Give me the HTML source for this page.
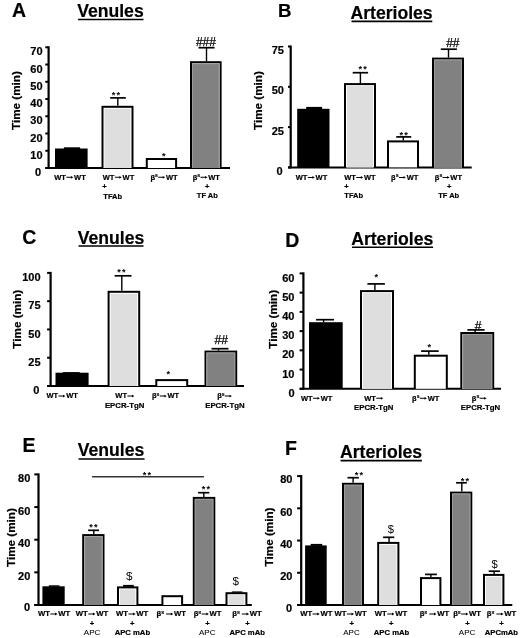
<!DOCTYPE html>
<html><head><meta charset="utf-8"><style>
html,body{margin:0;padding:0;background:#fff;}
svg{display:block;font-family:"Liberation Sans", sans-serif;}
text[font-weight="bold"]{stroke:#000;stroke-width:0.2px;} text.st{stroke:none;} svg{filter:blur(0.3px);}
</style></head><body>
<svg width="520" height="638" viewBox="0 0 520 638">
<rect width="520" height="638" fill="#fff"/>
<text x="12.00" y="17.20" font-size="19.5" font-weight="bold" text-anchor="start" fill="#000" >A</text>
<text x="77.20" y="17.30" font-size="17.6" font-weight="bold" text-anchor="start" fill="#000" >Venules</text>
<line x1="78.00" y1="19.50" x2="143.50" y2="19.50" stroke="#000" stroke-width="1.6"/>
<line x1="48.60" y1="46.30" x2="48.60" y2="169.00" stroke="#000" stroke-width="2.2"/>
<line x1="45.30" y1="47.30" x2="48.60" y2="47.30" stroke="#000" stroke-width="2"/>
<text x="42.60" y="55.40" font-size="11" font-weight="bold" text-anchor="end" fill="#000" >70</text>
<line x1="45.30" y1="64.54" x2="48.60" y2="64.54" stroke="#000" stroke-width="2"/>
<text x="42.60" y="72.64" font-size="11" font-weight="bold" text-anchor="end" fill="#000" >60</text>
<line x1="45.30" y1="81.79" x2="48.60" y2="81.79" stroke="#000" stroke-width="2"/>
<text x="42.60" y="89.89" font-size="11" font-weight="bold" text-anchor="end" fill="#000" >50</text>
<line x1="45.30" y1="99.03" x2="48.60" y2="99.03" stroke="#000" stroke-width="2"/>
<text x="42.60" y="107.13" font-size="11" font-weight="bold" text-anchor="end" fill="#000" >40</text>
<line x1="45.30" y1="116.27" x2="48.60" y2="116.27" stroke="#000" stroke-width="2"/>
<text x="42.60" y="124.37" font-size="11" font-weight="bold" text-anchor="end" fill="#000" >30</text>
<line x1="45.30" y1="133.51" x2="48.60" y2="133.51" stroke="#000" stroke-width="2"/>
<text x="42.60" y="141.61" font-size="11" font-weight="bold" text-anchor="end" fill="#000" >20</text>
<line x1="45.30" y1="150.76" x2="48.60" y2="150.76" stroke="#000" stroke-width="2"/>
<text x="42.60" y="158.86" font-size="11" font-weight="bold" text-anchor="end" fill="#000" >10</text>
<line x1="45.30" y1="168.00" x2="48.60" y2="168.00" stroke="#000" stroke-width="2"/>
<text x="41.20" y="175.90" font-size="11" font-weight="bold" text-anchor="end" fill="#000" >0</text>
<line x1="45.30" y1="168.00" x2="230.00" y2="168.00" stroke="#000" stroke-width="2.0"/>
<text transform="translate(20.40,100.60) rotate(-90)" font-size="11.7" font-weight="bold" text-anchor="middle" x="0" y="0">Time (min)</text>
<rect x="55.00" y="148.50" width="32.60" height="19.50" fill="#000"/>
<rect x="63.90" y="147.30" width="16.20" height="1.70" fill="#000"/>
<rect x="101.50" y="105.80" width="32.00" height="62.20" fill="#000"/>
<rect x="103.50" y="107.80" width="28.00" height="60.20" fill="#fff"/>
<rect x="104.50" y="108.80" width="26.00" height="59.20" fill="#dedede"/>
<line x1="117.80" y1="105.80" x2="117.80" y2="97.90" stroke="#000" stroke-width="1.4"/>
<line x1="110.20" y1="97.90" x2="125.80" y2="97.90" stroke="#000" stroke-width="1.7"/>
<text x="113.55" y="98.00" font-size="9.2" font-weight="bold" text-anchor="middle" fill="#000" class="st">*</text>
<text x="118.35" y="98.00" font-size="9.2" font-weight="bold" text-anchor="middle" fill="#000" class="st">*</text>
<rect x="145.80" y="158.00" width="31.30" height="10.00" fill="#000"/>
<rect x="147.80" y="160.00" width="27.30" height="8.00" fill="#fff"/>
<text x="163.70" y="159.00" font-size="9.2" font-weight="bold" text-anchor="middle" fill="#000" class="st">*</text>
<rect x="190.00" y="61.20" width="31.60" height="106.80" fill="#000"/>
<rect x="192.00" y="63.20" width="27.60" height="104.80" fill="#fff"/>
<rect x="192.00" y="63.20" width="27.60" height="104.80" fill="#9a9a9a"/>
<rect x="193.00" y="64.20" width="25.60" height="103.80" fill="#818181"/>
<line x1="206.50" y1="61.20" x2="206.50" y2="47.70" stroke="#000" stroke-width="1.4"/>
<line x1="198.50" y1="47.70" x2="214.60" y2="47.70" stroke="#000" stroke-width="1.7"/>
<text x="205.95" y="46.20" font-size="12" font-weight="normal" text-anchor="middle" fill="#000" stroke="#000" stroke-width="0.25">###</text>
<text x="54.29" y="179.50" font-size="7.5" font-weight="bold" text-anchor="start" fill="#000" >WT</text>
<path d="M66.33 176.82H70.93V175.88L73.30 177.32L70.93 178.77V177.82H66.33Z" fill="#000"/>
<text x="74.05" y="179.50" font-size="7.5" font-weight="bold" text-anchor="start" fill="#000" >WT</text>
<text x="102.79" y="179.50" font-size="7.5" font-weight="bold" text-anchor="start" fill="#000" >WT</text>
<path d="M114.83 176.82H119.43V175.88L121.80 177.32L119.43 178.77V177.82H114.83Z" fill="#000"/>
<text x="122.55" y="179.50" font-size="7.5" font-weight="bold" text-anchor="start" fill="#000" >WT</text>
<text x="104.50" y="189.00" font-size="7.5" font-weight="bold" text-anchor="middle" fill="#000" >+</text>
<text x="103.30" y="198.50" font-size="7.5" font-weight="bold" text-anchor="start" fill="#000" >TFAb</text>
<text x="150.41" y="179.50" font-size="7.5" font-weight="bold" text-anchor="start" fill="#000" >β</text>
<text x="154.99" y="177.03" font-size="5.1000000000000005" font-weight="bold" text-anchor="start" fill="#000" >s</text>
<path d="M158.20 176.82H162.81V175.88L165.18 177.32L162.81 178.77V177.82H158.20Z" fill="#000"/>
<text x="165.93" y="179.50" font-size="7.5" font-weight="bold" text-anchor="start" fill="#000" >WT</text>
<text x="192.71" y="179.50" font-size="7.5" font-weight="bold" text-anchor="start" fill="#000" >β</text>
<text x="197.29" y="177.03" font-size="5.1000000000000005" font-weight="bold" text-anchor="start" fill="#000" >s</text>
<path d="M200.50 176.82H205.11V175.88L207.48 177.32L205.11 178.77V177.82H200.50Z" fill="#000"/>
<text x="208.23" y="179.50" font-size="7.5" font-weight="bold" text-anchor="start" fill="#000" >WT</text>
<text x="207.30" y="189.00" font-size="7.5" font-weight="bold" text-anchor="middle" fill="#000" >+</text>
<text x="207.30" y="198.00" font-size="7.5" font-weight="bold" text-anchor="middle" fill="#000" >TF Ab</text>
<text x="278.00" y="17.00" font-size="18.6" font-weight="bold" text-anchor="start" fill="#000" >B</text>
<text x="350.50" y="19.00" font-size="17.6" font-weight="bold" text-anchor="start" fill="#000" >Arterioles</text>
<line x1="351.50" y1="21.40" x2="432.30" y2="21.40" stroke="#000" stroke-width="1.6"/>
<line x1="290.70" y1="45.50" x2="290.70" y2="168.40" stroke="#000" stroke-width="2.2"/>
<line x1="288.00" y1="46.50" x2="290.70" y2="46.50" stroke="#000" stroke-width="2"/>
<text x="283.90" y="54.00" font-size="11" font-weight="bold" text-anchor="end" fill="#000" >75</text>
<line x1="288.00" y1="86.80" x2="290.70" y2="86.80" stroke="#000" stroke-width="2"/>
<text x="283.90" y="94.30" font-size="11" font-weight="bold" text-anchor="end" fill="#000" >50</text>
<line x1="288.00" y1="127.10" x2="290.70" y2="127.10" stroke="#000" stroke-width="2"/>
<text x="283.90" y="134.60" font-size="11" font-weight="bold" text-anchor="end" fill="#000" >25</text>
<line x1="288.00" y1="167.40" x2="290.70" y2="167.40" stroke="#000" stroke-width="2"/>
<text x="282.60" y="175.20" font-size="11" font-weight="bold" text-anchor="end" fill="#000" >0</text>
<line x1="288.00" y1="167.40" x2="471.70" y2="167.40" stroke="#000" stroke-width="2.0"/>
<text transform="translate(262.30,100.60) rotate(-90)" font-size="11.7" font-weight="bold" text-anchor="middle" x="0" y="0">Time (min)</text>
<rect x="297.20" y="108.80" width="32.30" height="58.60" fill="#000"/>
<rect x="306.20" y="106.90" width="15.90" height="2.40" fill="#000"/>
<rect x="344.00" y="83.10" width="32.00" height="84.30" fill="#000"/>
<rect x="346.00" y="85.10" width="28.00" height="82.30" fill="#fff"/>
<rect x="347.00" y="86.10" width="26.00" height="81.30" fill="#dedede"/>
<line x1="360.40" y1="83.30" x2="360.40" y2="72.70" stroke="#000" stroke-width="1.4"/>
<line x1="352.70" y1="72.70" x2="368.10" y2="72.70" stroke="#000" stroke-width="1.7"/>
<text x="360.30" y="72.00" font-size="9.2" font-weight="bold" text-anchor="middle" fill="#000" class="st">*</text>
<text x="365.10" y="72.00" font-size="9.2" font-weight="bold" text-anchor="middle" fill="#000" class="st">*</text>
<rect x="387.00" y="140.40" width="32.00" height="27.00" fill="#000"/>
<rect x="389.00" y="142.40" width="28.00" height="25.00" fill="#fff"/>
<line x1="403.30" y1="140.40" x2="403.30" y2="136.90" stroke="#000" stroke-width="1.4"/>
<line x1="396.20" y1="136.90" x2="411.20" y2="136.90" stroke="#000" stroke-width="1.7"/>
<text x="401.35" y="138.00" font-size="9.2" font-weight="bold" text-anchor="middle" fill="#000" class="st">*</text>
<text x="406.15" y="138.00" font-size="9.2" font-weight="bold" text-anchor="middle" fill="#000" class="st">*</text>
<rect x="432.00" y="57.60" width="32.00" height="109.80" fill="#000"/>
<rect x="434.00" y="59.60" width="28.00" height="107.80" fill="#fff"/>
<rect x="434.00" y="59.60" width="28.00" height="107.80" fill="#9a9a9a"/>
<rect x="435.00" y="60.60" width="26.00" height="106.80" fill="#818181"/>
<line x1="448.50" y1="57.60" x2="448.50" y2="49.20" stroke="#000" stroke-width="1.4"/>
<line x1="440.80" y1="49.20" x2="456.90" y2="49.20" stroke="#000" stroke-width="1.7"/>
<text x="452.85" y="47.10" font-size="12" font-weight="normal" text-anchor="middle" fill="#000" stroke="#000" stroke-width="0.25">##</text>
<text x="295.79" y="179.60" font-size="7.5" font-weight="bold" text-anchor="start" fill="#000" >WT</text>
<path d="M307.82 176.92H312.43V175.97L314.80 177.42L312.43 178.87V177.92H307.82Z" fill="#000"/>
<text x="315.55" y="179.60" font-size="7.5" font-weight="bold" text-anchor="start" fill="#000" >WT</text>
<text x="344.19" y="179.60" font-size="7.5" font-weight="bold" text-anchor="start" fill="#000" >WT</text>
<path d="M356.22 176.92H360.83V175.97L363.20 177.42L360.83 178.87V177.92H356.22Z" fill="#000"/>
<text x="363.95" y="179.60" font-size="7.5" font-weight="bold" text-anchor="start" fill="#000" >WT</text>
<text x="344.30" y="189.00" font-size="7.5" font-weight="bold" text-anchor="start" fill="#000" >+</text>
<text x="344.30" y="198.30" font-size="7.5" font-weight="bold" text-anchor="start" fill="#000" >TFAb</text>
<text x="391.11" y="179.60" font-size="7.5" font-weight="bold" text-anchor="start" fill="#000" >β</text>
<text x="395.69" y="177.12" font-size="5.1000000000000005" font-weight="bold" text-anchor="start" fill="#000" >s</text>
<path d="M398.90 176.92H403.51V175.97L405.88 177.42L403.51 178.87V177.92H398.90Z" fill="#000"/>
<text x="406.63" y="179.60" font-size="7.5" font-weight="bold" text-anchor="start" fill="#000" >WT</text>
<text x="434.81" y="179.60" font-size="7.5" font-weight="bold" text-anchor="start" fill="#000" >β</text>
<text x="439.39" y="177.12" font-size="5.1000000000000005" font-weight="bold" text-anchor="start" fill="#000" >s</text>
<path d="M442.60 176.92H447.21V175.97L449.58 177.42L447.21 178.87V177.92H442.60Z" fill="#000"/>
<text x="450.33" y="179.60" font-size="7.5" font-weight="bold" text-anchor="start" fill="#000" >WT</text>
<text x="449.10" y="189.00" font-size="7.5" font-weight="bold" text-anchor="middle" fill="#000" >+</text>
<text x="448.70" y="198.00" font-size="7.5" font-weight="bold" text-anchor="middle" fill="#000" >TF Ab</text>
<text x="22.30" y="243.70" font-size="19.5" font-weight="bold" text-anchor="start" fill="#000" >C</text>
<text x="77.80" y="243.50" font-size="17.6" font-weight="bold" text-anchor="start" fill="#000" >Venules</text>
<line x1="78.50" y1="246.00" x2="143.50" y2="246.00" stroke="#000" stroke-width="1.6"/>
<line x1="50.60" y1="271.90" x2="50.60" y2="387.00" stroke="#000" stroke-width="2.2"/>
<line x1="47.10" y1="272.90" x2="50.60" y2="272.90" stroke="#000" stroke-width="2"/>
<text x="40.60" y="281.00" font-size="11" font-weight="bold" text-anchor="end" fill="#000" >100</text>
<line x1="47.10" y1="301.17" x2="50.60" y2="301.17" stroke="#000" stroke-width="2"/>
<text x="40.60" y="309.27" font-size="11" font-weight="bold" text-anchor="end" fill="#000" >75</text>
<line x1="47.10" y1="329.45" x2="50.60" y2="329.45" stroke="#000" stroke-width="2"/>
<text x="40.60" y="337.55" font-size="11" font-weight="bold" text-anchor="end" fill="#000" >50</text>
<line x1="47.10" y1="357.73" x2="50.60" y2="357.73" stroke="#000" stroke-width="2"/>
<text x="40.60" y="365.83" font-size="11" font-weight="bold" text-anchor="end" fill="#000" >25</text>
<line x1="47.10" y1="386.00" x2="50.60" y2="386.00" stroke="#000" stroke-width="2"/>
<text x="39.30" y="394.10" font-size="11" font-weight="bold" text-anchor="end" fill="#000" >0</text>
<line x1="47.10" y1="386.00" x2="244.00" y2="386.00" stroke="#000" stroke-width="2.0"/>
<text transform="translate(21.00,319.20) rotate(-90)" font-size="11.7" font-weight="bold" text-anchor="middle" x="0" y="0">Time (min)</text>
<rect x="55.50" y="372.70" width="33.10" height="13.30" fill="#000"/>
<rect x="62.80" y="372.10" width="16.90" height="1.10" fill="#000"/>
<rect x="107.60" y="290.80" width="32.60" height="95.20" fill="#000"/>
<rect x="109.60" y="292.80" width="28.60" height="93.20" fill="#fff"/>
<rect x="110.60" y="293.80" width="26.60" height="92.20" fill="#dedede"/>
<line x1="121.80" y1="290.80" x2="121.80" y2="275.80" stroke="#000" stroke-width="1.4"/>
<line x1="114.60" y1="275.80" x2="131.50" y2="275.80" stroke="#000" stroke-width="1.7"/>
<text x="118.95" y="275.00" font-size="9.2" font-weight="bold" text-anchor="middle" fill="#000" class="st">*</text>
<text x="123.75" y="275.00" font-size="9.2" font-weight="bold" text-anchor="middle" fill="#000" class="st">*</text>
<rect x="155.30" y="379.10" width="32.90" height="6.90" fill="#000"/>
<rect x="157.30" y="381.10" width="28.90" height="4.90" fill="#fff"/>
<text x="168.20" y="377.00" font-size="9.2" font-weight="bold" text-anchor="middle" fill="#000" class="st">*</text>
<rect x="204.50" y="350.60" width="32.70" height="35.40" fill="#000"/>
<rect x="206.50" y="352.60" width="28.70" height="33.40" fill="#fff"/>
<rect x="206.50" y="352.60" width="28.70" height="33.40" fill="#9a9a9a"/>
<rect x="207.50" y="353.60" width="26.70" height="32.40" fill="#818181"/>
<line x1="218.50" y1="350.60" x2="218.50" y2="348.70" stroke="#000" stroke-width="1.4"/>
<line x1="211.50" y1="348.70" x2="228.50" y2="348.70" stroke="#000" stroke-width="1.7"/>
<text x="221.15" y="344.40" font-size="12" font-weight="normal" text-anchor="middle" fill="#000" stroke="#000" stroke-width="0.25">##</text>
<text x="46.39" y="398.30" font-size="7.5" font-weight="bold" text-anchor="start" fill="#000" >WT</text>
<path d="M58.42 395.62H63.03V394.68L65.40 396.12L63.03 397.57V396.62H58.42Z" fill="#000"/>
<text x="66.15" y="398.30" font-size="7.5" font-weight="bold" text-anchor="start" fill="#000" >WT</text>
<text x="115.32" y="398.30" font-size="7.5" font-weight="bold" text-anchor="start" fill="#000" >WT</text>
<path d="M127.36 395.62H131.96V394.68L134.33 396.12L131.96 397.57V396.62H127.36Z" fill="#000"/>
<text x="124.60" y="408.00" font-size="7.8" font-weight="bold" text-anchor="middle" fill="#000" >EPCR-TgN</text>
<text x="152.01" y="398.30" font-size="7.5" font-weight="bold" text-anchor="start" fill="#000" >β</text>
<text x="156.59" y="395.82" font-size="5.1000000000000005" font-weight="bold" text-anchor="start" fill="#000" >s</text>
<path d="M159.80 395.62H164.41V394.68L166.78 396.12L164.41 397.57V396.62H159.80Z" fill="#000"/>
<text x="167.53" y="398.30" font-size="7.5" font-weight="bold" text-anchor="start" fill="#000" >WT</text>
<text x="217.14" y="398.30" font-size="7.5" font-weight="bold" text-anchor="start" fill="#000" >β</text>
<text x="221.72" y="395.82" font-size="5.1000000000000005" font-weight="bold" text-anchor="start" fill="#000" >s</text>
<path d="M224.93 395.62H229.54V394.68L231.91 396.12L229.54 397.57V396.62H224.93Z" fill="#000"/>
<text x="224.90" y="408.00" font-size="7.8" font-weight="bold" text-anchor="middle" fill="#000" >EPCR-TgN</text>
<text x="285.30" y="246.80" font-size="19.5" font-weight="bold" text-anchor="start" fill="#000" >D</text>
<text x="351.20" y="245.10" font-size="17.6" font-weight="bold" text-anchor="start" fill="#000" >Arterioles</text>
<line x1="352.00" y1="247.30" x2="433.10" y2="247.30" stroke="#000" stroke-width="1.6"/>
<line x1="303.40" y1="272.40" x2="303.40" y2="389.80" stroke="#000" stroke-width="2.2"/>
<line x1="299.60" y1="273.40" x2="303.40" y2="273.40" stroke="#000" stroke-width="2"/>
<text x="294.50" y="281.50" font-size="11" font-weight="bold" text-anchor="end" fill="#000" >60</text>
<line x1="299.60" y1="292.63" x2="303.40" y2="292.63" stroke="#000" stroke-width="2"/>
<text x="294.50" y="300.73" font-size="11" font-weight="bold" text-anchor="end" fill="#000" >50</text>
<line x1="299.60" y1="311.87" x2="303.40" y2="311.87" stroke="#000" stroke-width="2"/>
<text x="294.50" y="319.97" font-size="11" font-weight="bold" text-anchor="end" fill="#000" >40</text>
<line x1="299.60" y1="331.10" x2="303.40" y2="331.10" stroke="#000" stroke-width="2"/>
<text x="294.50" y="339.20" font-size="11" font-weight="bold" text-anchor="end" fill="#000" >30</text>
<line x1="299.60" y1="350.33" x2="303.40" y2="350.33" stroke="#000" stroke-width="2"/>
<text x="294.50" y="358.43" font-size="11" font-weight="bold" text-anchor="end" fill="#000" >20</text>
<line x1="299.60" y1="369.57" x2="303.40" y2="369.57" stroke="#000" stroke-width="2"/>
<text x="294.50" y="377.67" font-size="11" font-weight="bold" text-anchor="end" fill="#000" >10</text>
<line x1="299.60" y1="388.80" x2="303.40" y2="388.80" stroke="#000" stroke-width="2"/>
<text x="294.50" y="396.90" font-size="11" font-weight="bold" text-anchor="end" fill="#000" >0</text>
<line x1="299.60" y1="388.80" x2="501.00" y2="388.80" stroke="#000" stroke-width="2.0"/>
<text transform="translate(276.60,319.30) rotate(-90)" font-size="11.7" font-weight="bold" text-anchor="middle" x="0" y="0">Time (min)</text>
<rect x="309.00" y="322.20" width="33.70" height="66.60" fill="#000"/>
<line x1="323.60" y1="322.20" x2="323.60" y2="319.70" stroke="#000" stroke-width="1.4"/>
<line x1="316.10" y1="319.70" x2="334.00" y2="319.70" stroke="#000" stroke-width="1.7"/>
<rect x="360.00" y="290.10" width="34.00" height="98.70" fill="#000"/>
<rect x="362.00" y="292.10" width="30.00" height="96.70" fill="#fff"/>
<rect x="363.00" y="293.10" width="28.00" height="95.70" fill="#dedede"/>
<line x1="374.90" y1="290.10" x2="374.90" y2="283.90" stroke="#000" stroke-width="1.4"/>
<line x1="367.40" y1="283.90" x2="384.90" y2="283.90" stroke="#000" stroke-width="1.7"/>
<text x="376.40" y="280.00" font-size="9.2" font-weight="bold" text-anchor="middle" fill="#000" class="st">*</text>
<rect x="413.80" y="354.70" width="34.00" height="34.10" fill="#000"/>
<rect x="415.80" y="356.70" width="30.00" height="32.10" fill="#fff"/>
<line x1="428.80" y1="354.70" x2="428.80" y2="351.10" stroke="#000" stroke-width="1.4"/>
<line x1="421.10" y1="351.10" x2="438.70" y2="351.10" stroke="#000" stroke-width="1.7"/>
<text x="429.40" y="350.00" font-size="9.2" font-weight="bold" text-anchor="middle" fill="#000" class="st">*</text>
<rect x="460.30" y="332.00" width="33.90" height="56.80" fill="#000"/>
<rect x="462.30" y="334.00" width="29.90" height="54.80" fill="#fff"/>
<rect x="462.30" y="334.00" width="29.90" height="54.80" fill="#9a9a9a"/>
<rect x="463.30" y="335.00" width="27.90" height="53.80" fill="#818181"/>
<line x1="475.10" y1="332.00" x2="475.10" y2="329.90" stroke="#000" stroke-width="1.4"/>
<line x1="467.40" y1="329.90" x2="484.60" y2="329.90" stroke="#000" stroke-width="1.7"/>
<text x="478.10" y="330.10" font-size="12" font-weight="normal" text-anchor="middle" fill="#000" stroke="#000" stroke-width="0.25">#</text>
<text x="300.89" y="400.50" font-size="7.5" font-weight="bold" text-anchor="start" fill="#000" >WT</text>
<path d="M312.93 397.82H317.53V396.88L319.90 398.32L317.53 399.77V398.82H312.93Z" fill="#000"/>
<text x="320.65" y="400.50" font-size="7.5" font-weight="bold" text-anchor="start" fill="#000" >WT</text>
<text x="364.22" y="400.50" font-size="7.5" font-weight="bold" text-anchor="start" fill="#000" >WT</text>
<path d="M376.26 397.82H380.86V396.88L383.23 398.32L380.86 399.77V398.82H376.26Z" fill="#000"/>
<text x="373.70" y="410.30" font-size="7.8" font-weight="bold" text-anchor="middle" fill="#000" >EPCR-TgN</text>
<text x="412.11" y="400.50" font-size="7.5" font-weight="bold" text-anchor="start" fill="#000" >β</text>
<text x="416.69" y="398.02" font-size="5.1000000000000005" font-weight="bold" text-anchor="start" fill="#000" >s</text>
<path d="M419.90 397.82H424.51V396.88L426.88 398.32L424.51 399.77V398.82H419.90Z" fill="#000"/>
<text x="427.63" y="400.50" font-size="7.5" font-weight="bold" text-anchor="start" fill="#000" >WT</text>
<text x="471.84" y="400.50" font-size="7.5" font-weight="bold" text-anchor="start" fill="#000" >β</text>
<text x="476.42" y="398.02" font-size="5.1000000000000005" font-weight="bold" text-anchor="start" fill="#000" >s</text>
<path d="M479.63 397.82H484.24V396.88L486.61 398.32L484.24 399.77V398.82H479.63Z" fill="#000"/>
<text x="480.50" y="410.30" font-size="7.8" font-weight="bold" text-anchor="middle" fill="#000" >EPCR-TgN</text>
<text x="22.40" y="452.20" font-size="19.5" font-weight="bold" text-anchor="start" fill="#000" >E</text>
<text x="77.80" y="456.20" font-size="17.6" font-weight="bold" text-anchor="start" fill="#000" >Venules</text>
<line x1="78.50" y1="459.00" x2="144.60" y2="459.00" stroke="#000" stroke-width="1.5"/>
<line x1="38.50" y1="473.40" x2="38.50" y2="606.00" stroke="#000" stroke-width="2.2"/>
<line x1="34.30" y1="474.40" x2="38.50" y2="474.40" stroke="#000" stroke-width="2"/>
<text x="30.30" y="482.00" font-size="11" font-weight="bold" text-anchor="end" fill="#000" >80</text>
<line x1="34.30" y1="507.05" x2="38.50" y2="507.05" stroke="#000" stroke-width="2"/>
<text x="30.30" y="514.65" font-size="11" font-weight="bold" text-anchor="end" fill="#000" >60</text>
<line x1="34.30" y1="539.70" x2="38.50" y2="539.70" stroke="#000" stroke-width="2"/>
<text x="30.30" y="547.30" font-size="11" font-weight="bold" text-anchor="end" fill="#000" >40</text>
<line x1="34.30" y1="572.35" x2="38.50" y2="572.35" stroke="#000" stroke-width="2"/>
<text x="30.30" y="579.95" font-size="11" font-weight="bold" text-anchor="end" fill="#000" >20</text>
<line x1="34.30" y1="605.00" x2="38.50" y2="605.00" stroke="#000" stroke-width="2"/>
<text x="30.00" y="611.40" font-size="11" font-weight="bold" text-anchor="end" fill="#000" >0</text>
<line x1="34.30" y1="605.00" x2="251.80" y2="605.00" stroke="#000" stroke-width="2.0"/>
<text transform="translate(15.00,537.60) rotate(-90)" font-size="11.7" font-weight="bold" text-anchor="middle" x="0" y="0">Time (min)</text>
<rect x="42.40" y="586.30" width="22.30" height="18.70" fill="#000"/>
<rect x="48.80" y="585.30" width="10.70" height="1.50" fill="#000"/>
<rect x="82.20" y="534.10" width="22.30" height="70.90" fill="#000"/>
<rect x="84.20" y="536.10" width="18.30" height="68.90" fill="#fff"/>
<rect x="84.20" y="536.10" width="18.30" height="68.90" fill="#9a9a9a"/>
<rect x="85.20" y="537.10" width="16.30" height="67.90" fill="#818181"/>
<line x1="93.80" y1="534.10" x2="93.80" y2="530.30" stroke="#000" stroke-width="1.4"/>
<line x1="88.10" y1="530.30" x2="99.00" y2="530.30" stroke="#000" stroke-width="1.7"/>
<text x="91.10" y="530.00" font-size="9.2" font-weight="bold" text-anchor="middle" fill="#000" class="st">*</text>
<text x="95.90" y="530.00" font-size="9.2" font-weight="bold" text-anchor="middle" fill="#000" class="st">*</text>
<rect x="117.00" y="586.40" width="21.40" height="18.60" fill="#000"/>
<rect x="119.00" y="588.40" width="17.40" height="16.60" fill="#fff"/>
<rect x="120.00" y="589.40" width="15.40" height="15.60" fill="#dedede"/>
<rect x="123.10" y="584.90" width="10.70" height="2.00" fill="#000"/>
<text x="129.30" y="579.90" font-size="11.6" font-weight="normal" text-anchor="middle" fill="#000" >$</text>
<rect x="161.40" y="595.20" width="21.70" height="9.80" fill="#000"/>
<rect x="163.40" y="597.20" width="17.70" height="7.80" fill="#fff"/>
<rect x="192.80" y="496.90" width="22.50" height="108.10" fill="#000"/>
<rect x="194.80" y="498.90" width="18.50" height="106.10" fill="#fff"/>
<rect x="194.80" y="498.90" width="18.50" height="106.10" fill="#9a9a9a"/>
<rect x="195.80" y="499.90" width="16.50" height="105.10" fill="#818181"/>
<line x1="203.80" y1="496.90" x2="203.80" y2="492.70" stroke="#000" stroke-width="1.4"/>
<line x1="198.10" y1="492.70" x2="209.30" y2="492.70" stroke="#000" stroke-width="1.7"/>
<text x="203.45" y="492.00" font-size="9.2" font-weight="bold" text-anchor="middle" fill="#000" class="st">*</text>
<text x="208.25" y="492.00" font-size="9.2" font-weight="bold" text-anchor="middle" fill="#000" class="st">*</text>
<rect x="225.50" y="592.20" width="21.90" height="12.80" fill="#000"/>
<rect x="227.50" y="594.20" width="17.90" height="10.80" fill="#fff"/>
<rect x="228.50" y="595.20" width="15.90" height="9.80" fill="#dedede"/>
<rect x="231.80" y="591.40" width="10.70" height="1.30" fill="#000"/>
<text x="235.70" y="585.40" font-size="11.6" font-weight="normal" text-anchor="middle" fill="#000" >$</text>
<line x1="92.10" y1="476.70" x2="203.90" y2="476.70" stroke="#333" stroke-width="1.5"/>
<text x="144.60" y="478.00" font-size="9.2" font-weight="bold" text-anchor="middle" fill="#000" class="st">*</text>
<text x="149.40" y="478.00" font-size="9.2" font-weight="bold" text-anchor="middle" fill="#000" class="st">*</text>
<text x="37.97" y="616.30" font-size="7.7" font-weight="bold" text-anchor="start" fill="#000" >WT</text>
<path d="M50.33 613.57H55.09V612.62L57.49 614.07L55.09 615.52V614.57H50.33Z" fill="#000"/>
<text x="58.26" y="616.30" font-size="7.7" font-weight="bold" text-anchor="start" fill="#000" >WT</text>
<text x="75.87" y="616.30" font-size="7.7" font-weight="bold" text-anchor="start" fill="#000" >WT</text>
<path d="M88.23 613.57H92.99V612.62L95.39 614.07L92.99 615.52V614.57H88.23Z" fill="#000"/>
<text x="96.16" y="616.30" font-size="7.7" font-weight="bold" text-anchor="start" fill="#000" >WT</text>
<text x="92.00" y="626.00" font-size="7.7" font-weight="bold" text-anchor="middle" fill="#000" >+</text>
<text x="92.10" y="635.10" font-size="8" font-weight="normal" text-anchor="middle" fill="#000" stroke="#000" stroke-width="0.05">APC</text>
<text x="116.07" y="616.30" font-size="7.7" font-weight="bold" text-anchor="start" fill="#000" >WT</text>
<path d="M128.43 613.57H133.19V612.62L135.59 614.07L133.19 615.52V614.57H128.43Z" fill="#000"/>
<text x="136.36" y="616.30" font-size="7.7" font-weight="bold" text-anchor="start" fill="#000" >WT</text>
<text x="132.30" y="626.00" font-size="7.7" font-weight="bold" text-anchor="middle" fill="#000" >+</text>
<text x="132.40" y="635.10" font-size="7.7" font-weight="bold" text-anchor="middle" fill="#000" >APC mAb</text>
<text x="156.45" y="616.30" font-size="7.7" font-weight="bold" text-anchor="start" fill="#000" >β</text>
<text x="161.15" y="613.76" font-size="5.236000000000001" font-weight="bold" text-anchor="start" fill="#000" >s</text>
<path d="M166.05 613.57H170.81V612.62L173.21 614.07L170.81 615.52V614.57H166.05Z" fill="#000"/>
<text x="173.98" y="616.30" font-size="7.7" font-weight="bold" text-anchor="start" fill="#000" >WT</text>
<text x="193.65" y="616.30" font-size="7.7" font-weight="bold" text-anchor="start" fill="#000" >β</text>
<text x="198.35" y="613.76" font-size="5.236000000000001" font-weight="bold" text-anchor="start" fill="#000" >s</text>
<path d="M201.65 613.57H206.41V612.62L208.81 614.07L206.41 615.52V614.57H201.65Z" fill="#000"/>
<text x="209.58" y="616.30" font-size="7.7" font-weight="bold" text-anchor="start" fill="#000" >WT</text>
<text x="207.40" y="626.00" font-size="7.7" font-weight="bold" text-anchor="middle" fill="#000" >+</text>
<text x="207.20" y="635.10" font-size="8" font-weight="normal" text-anchor="middle" fill="#000" stroke="#000" stroke-width="0.05">APC</text>
<text x="232.25" y="616.30" font-size="7.7" font-weight="bold" text-anchor="start" fill="#000" >β</text>
<text x="236.95" y="613.76" font-size="5.236000000000001" font-weight="bold" text-anchor="start" fill="#000" >s</text>
<path d="M241.85 613.57H246.61V612.62L249.01 614.07L246.61 615.52V614.57H241.85Z" fill="#000"/>
<text x="249.78" y="616.30" font-size="7.7" font-weight="bold" text-anchor="start" fill="#000" >WT</text>
<text x="247.40" y="626.00" font-size="7.7" font-weight="bold" text-anchor="middle" fill="#000" >+</text>
<text x="247.20" y="635.10" font-size="7.7" font-weight="bold" text-anchor="middle" fill="#000" >APC mAb</text>
<text x="284.90" y="454.60" font-size="19.5" font-weight="bold" text-anchor="start" fill="#000" >F</text>
<text x="340.00" y="458.30" font-size="17.6" font-weight="bold" text-anchor="start" fill="#000" >Arterioles</text>
<line x1="340.60" y1="460.60" x2="421.90" y2="460.60" stroke="#000" stroke-width="1.6"/>
<line x1="301.20" y1="475.10" x2="301.20" y2="606.00" stroke="#000" stroke-width="2.2"/>
<line x1="297.10" y1="476.10" x2="301.20" y2="476.10" stroke="#000" stroke-width="2"/>
<text x="292.50" y="483.40" font-size="11" font-weight="bold" text-anchor="end" fill="#000" >80</text>
<line x1="297.10" y1="508.33" x2="301.20" y2="508.33" stroke="#000" stroke-width="2"/>
<text x="292.50" y="515.62" font-size="11" font-weight="bold" text-anchor="end" fill="#000" >60</text>
<line x1="297.10" y1="540.55" x2="301.20" y2="540.55" stroke="#000" stroke-width="2"/>
<text x="292.50" y="547.85" font-size="11" font-weight="bold" text-anchor="end" fill="#000" >40</text>
<line x1="297.10" y1="572.77" x2="301.20" y2="572.77" stroke="#000" stroke-width="2"/>
<text x="292.50" y="580.07" font-size="11" font-weight="bold" text-anchor="end" fill="#000" >20</text>
<line x1="297.10" y1="605.00" x2="301.20" y2="605.00" stroke="#000" stroke-width="2"/>
<text x="292.20" y="612.30" font-size="11" font-weight="bold" text-anchor="end" fill="#000" >0</text>
<line x1="297.10" y1="605.00" x2="512.30" y2="605.00" stroke="#000" stroke-width="2.0"/>
<text transform="translate(273.20,537.00) rotate(-90)" font-size="11.7" font-weight="bold" text-anchor="middle" x="0" y="0">Time (min)</text>
<rect x="305.10" y="545.40" width="21.60" height="59.60" fill="#000"/>
<rect x="310.70" y="543.90" width="11.50" height="2.00" fill="#000"/>
<rect x="342.00" y="482.80" width="22.00" height="122.20" fill="#000"/>
<rect x="344.00" y="484.80" width="18.00" height="120.20" fill="#fff"/>
<rect x="344.00" y="484.80" width="18.00" height="120.20" fill="#9a9a9a"/>
<rect x="345.00" y="485.80" width="16.00" height="119.20" fill="#818181"/>
<line x1="353.10" y1="482.80" x2="353.10" y2="477.70" stroke="#000" stroke-width="1.4"/>
<line x1="347.50" y1="477.70" x2="358.80" y2="477.70" stroke="#000" stroke-width="1.7"/>
<text x="356.60" y="478.00" font-size="9.2" font-weight="bold" text-anchor="middle" fill="#000" class="st">*</text>
<text x="361.40" y="478.00" font-size="9.2" font-weight="bold" text-anchor="middle" fill="#000" class="st">*</text>
<rect x="377.20" y="541.90" width="22.20" height="63.10" fill="#000"/>
<rect x="379.20" y="543.90" width="18.20" height="61.10" fill="#fff"/>
<rect x="380.20" y="544.90" width="16.20" height="60.10" fill="#dedede"/>
<line x1="389.10" y1="541.90" x2="389.10" y2="537.30" stroke="#000" stroke-width="1.4"/>
<line x1="383.10" y1="537.30" x2="394.30" y2="537.30" stroke="#000" stroke-width="1.7"/>
<text x="390.90" y="532.60" font-size="11.2" font-weight="normal" text-anchor="middle" fill="#000" >$</text>
<rect x="420.00" y="577.10" width="21.40" height="27.90" fill="#000"/>
<rect x="422.00" y="579.10" width="17.40" height="25.90" fill="#fff"/>
<line x1="430.90" y1="577.10" x2="430.90" y2="574.40" stroke="#000" stroke-width="1.4"/>
<line x1="425.10" y1="574.40" x2="436.90" y2="574.40" stroke="#000" stroke-width="1.7"/>
<rect x="450.00" y="491.60" width="22.30" height="113.40" fill="#000"/>
<rect x="452.00" y="493.60" width="18.30" height="111.40" fill="#fff"/>
<rect x="452.00" y="493.60" width="18.30" height="111.40" fill="#9a9a9a"/>
<rect x="453.00" y="494.60" width="16.30" height="110.40" fill="#818181"/>
<line x1="461.80" y1="491.60" x2="461.80" y2="482.80" stroke="#000" stroke-width="1.4"/>
<line x1="456.10" y1="482.80" x2="466.80" y2="482.80" stroke="#000" stroke-width="1.7"/>
<text x="462.60" y="484.00" font-size="9.2" font-weight="bold" text-anchor="middle" fill="#000" class="st">*</text>
<text x="467.40" y="484.00" font-size="9.2" font-weight="bold" text-anchor="middle" fill="#000" class="st">*</text>
<rect x="483.00" y="573.90" width="21.40" height="31.10" fill="#000"/>
<rect x="485.00" y="575.90" width="17.40" height="29.10" fill="#fff"/>
<rect x="486.00" y="576.90" width="15.40" height="28.10" fill="#dedede"/>
<line x1="494.10" y1="573.90" x2="494.10" y2="571.20" stroke="#000" stroke-width="1.4"/>
<line x1="488.70" y1="571.20" x2="499.90" y2="571.20" stroke="#000" stroke-width="1.7"/>
<text x="494.70" y="567.80" font-size="11.2" font-weight="normal" text-anchor="middle" fill="#000" >$</text>
<text x="300.17" y="616.20" font-size="7.7" font-weight="bold" text-anchor="start" fill="#000" >WT</text>
<path d="M312.53 613.47H317.29V612.52L319.69 613.97L317.29 615.42V614.47H312.53Z" fill="#000"/>
<text x="320.46" y="616.20" font-size="7.7" font-weight="bold" text-anchor="start" fill="#000" >WT</text>
<text x="334.47" y="616.20" font-size="7.7" font-weight="bold" text-anchor="start" fill="#000" >WT</text>
<path d="M346.83 613.47H351.59V612.52L353.99 613.97L351.59 615.42V614.47H346.83Z" fill="#000"/>
<text x="354.76" y="616.20" font-size="7.7" font-weight="bold" text-anchor="start" fill="#000" >WT</text>
<text x="351.80" y="626.00" font-size="7.7" font-weight="bold" text-anchor="middle" fill="#000" >+</text>
<text x="351.50" y="635.10" font-size="8" font-weight="normal" text-anchor="middle" fill="#000" stroke="#000" stroke-width="0.05">APC</text>
<text x="374.87" y="616.20" font-size="7.7" font-weight="bold" text-anchor="start" fill="#000" >WT</text>
<path d="M387.23 613.47H391.99V612.52L394.39 613.97L391.99 615.42V614.47H387.23Z" fill="#000"/>
<text x="395.16" y="616.20" font-size="7.7" font-weight="bold" text-anchor="start" fill="#000" >WT</text>
<text x="391.20" y="626.00" font-size="7.7" font-weight="bold" text-anchor="middle" fill="#000" >+</text>
<text x="391.50" y="635.10" font-size="7.7" font-weight="bold" text-anchor="middle" fill="#000" >APC mAb</text>
<text x="419.65" y="616.20" font-size="7.7" font-weight="bold" text-anchor="start" fill="#000" >β</text>
<text x="424.35" y="613.66" font-size="5.236000000000001" font-weight="bold" text-anchor="start" fill="#000" >s</text>
<path d="M429.25 613.47H434.01V612.52L436.41 613.97L434.01 615.42V614.47H429.25Z" fill="#000"/>
<text x="437.18" y="616.20" font-size="7.7" font-weight="bold" text-anchor="start" fill="#000" >WT</text>
<text x="453.15" y="616.20" font-size="7.7" font-weight="bold" text-anchor="start" fill="#000" >β</text>
<text x="457.85" y="613.66" font-size="5.236000000000001" font-weight="bold" text-anchor="start" fill="#000" >s</text>
<path d="M461.15 613.47H465.91V612.52L468.31 613.97L465.91 615.42V614.47H461.15Z" fill="#000"/>
<text x="469.08" y="616.20" font-size="7.7" font-weight="bold" text-anchor="start" fill="#000" >WT</text>
<text x="467.50" y="626.00" font-size="7.7" font-weight="bold" text-anchor="middle" fill="#000" >+</text>
<text x="467.10" y="635.10" font-size="8" font-weight="normal" text-anchor="middle" fill="#000" stroke="#000" stroke-width="0.05">APC</text>
<text x="486.75" y="616.20" font-size="7.7" font-weight="bold" text-anchor="start" fill="#000" >β</text>
<text x="491.45" y="613.66" font-size="5.236000000000001" font-weight="bold" text-anchor="start" fill="#000" >s</text>
<path d="M496.35 613.47H501.11V612.52L503.51 613.97L501.11 615.42V614.47H496.35Z" fill="#000"/>
<text x="504.28" y="616.20" font-size="7.7" font-weight="bold" text-anchor="start" fill="#000" >WT</text>
<text x="501.50" y="626.00" font-size="7.7" font-weight="bold" text-anchor="middle" fill="#000" >+</text>
<text x="501.40" y="635.10" font-size="7.7" font-weight="bold" text-anchor="middle" fill="#000" >APCmAb</text>
</svg>
</body></html>
